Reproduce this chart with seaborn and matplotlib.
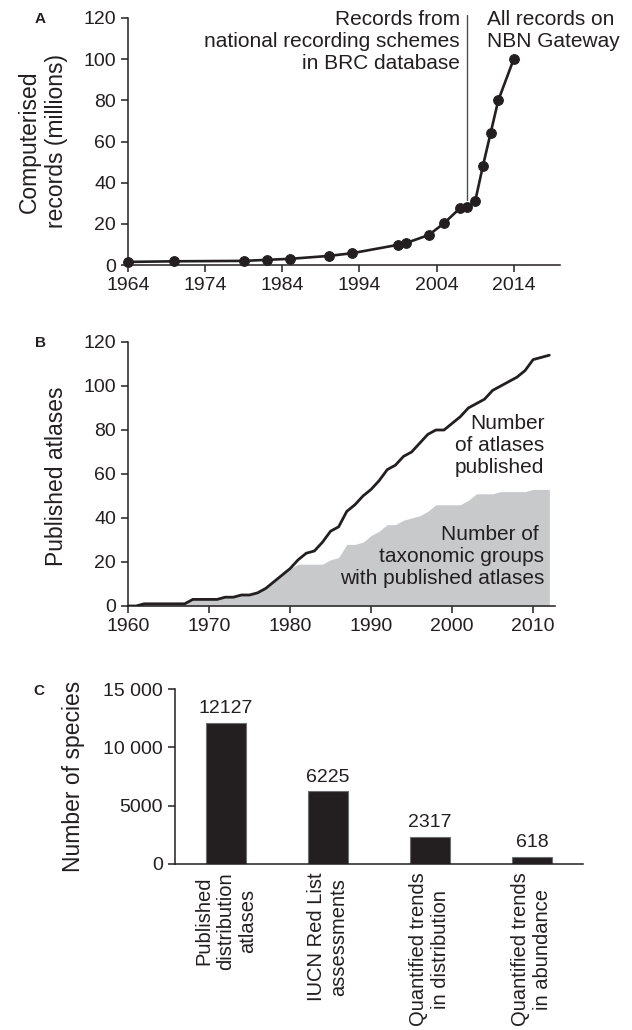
import matplotlib
matplotlib.use("Agg")
import matplotlib.pyplot as plt
import seaborn as sns
import pandas as pd

# A: computerised records (millions)
rec_years = [1964, 1970, 1979, 1982, 1985, 1990, 1993, 1999, 2000, 2003,
             2005, 2007, 2008, 2009, 2010, 2011, 2012, 2014]
rec_millions = [1.5, 1.8, 2.0, 2.5, 3.0, 4.4, 5.7, 9.8, 10.6, 14.6,
                20.4, 27.5, 28.4, 30.9, 48, 64, 80, 100]
brc_year = 2008

# B: cumulative atlases and taxonomic groups
atlas_years = list(range(1960, 2013))
atlases = [0, 0, 1, 1, 1, 1, 1, 1, 3, 3, 3, 3, 4, 4, 5, 5, 6, 8, 11, 14,
           17, 21, 24, 25, 29, 34, 36, 43, 46, 50, 53, 57, 62, 64, 68, 70, 74, 78, 80, 80,
           83, 86, 90, 92, 94, 98, 100, 102, 104, 107, 112, 113, 114]
groups = [0, 0, 1, 1, 1, 1, 1, 1, 3, 3, 3, 3, 4, 4, 5, 5, 6, 8, 11, 14,
          17, 19, 19, 19, 19, 21, 22, 28, 28, 29, 32, 34, 37, 37, 39, 40, 41, 43, 46, 46,
          46, 46, 48, 51, 51, 51, 52, 52, 52, 52, 53, 53, 53]

# C: number of species
categories = ["Published\ndistribution\natlases", "IUCN Red List\nassessments",
              "Quantified trends\nin distribution", "Quantified trends\nin abundance"]
species = [12127, 6225, 2317, 618]
c_ticks = [0, 5000, 10000, 15000]
c_ticklabels = ["0", "5000", "10 000", "15 000"]

sns.set_style("ticks")
plt.rcParams["font.family"] = ["Liberation Sans", "DejaVu Sans"]
ink = "#231f20"
plt.rcParams.update({
    "axes.edgecolor": ink, "axes.linewidth": 1.1,
    "xtick.color": ink, "ytick.color": ink,
    "xtick.labelcolor": ink, "ytick.labelcolor": ink,
    "xtick.major.width": 1.1, "ytick.major.width": 1.1,
    "xtick.major.size": 5, "ytick.major.size": 5,
    "xtick.labelsize": 14, "ytick.labelsize": 14,
    "axes.labelsize": 16.5, "axes.labelcolor": ink, "text.color": ink,
})

fig = plt.figure(figsize=(6.32, 10.30), dpi=100)
W, H = 632, 1030


def px_axes(l, r, t, b):
    return fig.add_axes([l / W, 1 - b / H, (r - l) / W, (b - t) / H])


# ---- panel A
ax1 = px_axes(128, 560, 18, 265)
dfa = pd.DataFrame({"year": rec_years, "records": rec_millions})
sns.lineplot(data=dfa, x="year", y="records", ax=ax1, color=ink, lw=1.9,
             marker="o", markersize=7, markeredgecolor=ink, clip_on=False)
ax1.plot([brc_year, brc_year], [31.5, 121.5], color="#4d4d4f", lw=1.0, clip_on=False)
ax1.set_xlim(1964, 2020)
ax1.set_ylim(0, 120)
ax1.set_xticks(range(1964, 2015, 10))
ax1.set_yticks(range(0, 121, 20))
ax1.set_xlabel("")
ax1.set_ylabel("Computerised\nrecords (millions)")
ax1.yaxis.set_label_coords(-0.14, 0.5)
ax1.text(2007.0, 108.5, "Records from\nnational recording schemes\nin BRC database",
         ha="right", va="center", fontsize=15, multialignment="right", clip_on=False)
ax1.text(2010.5, 114, "All records on\nNBN Gateway", ha="left", va="center",
         fontsize=15, clip_on=False)
sns.despine(ax=ax1)

# ---- panel B
ax2 = px_axes(128, 555, 342, 606)
ax2.fill_between(atlas_years, groups, color="#c8c9cb", linewidth=0)
dfb = pd.DataFrame({"year": atlas_years, "atlases": atlases})
sns.lineplot(data=dfb, x="year", y="atlases", ax=ax2, color=ink, lw=2.0)
ax2.set_xlim(1960, 2012.7)
ax2.set_ylim(0, 120)
ax2.set_xticks(range(1960, 2011, 10))
ax2.set_yticks(range(0, 121, 20))
ax2.set_xlabel("")
ax2.set_ylabel("Published atlases")
ax2.yaxis.set_label_coords(-0.14, 0.49)
ax2.text(2011.4, 73, "Number\nof atlases\npublished", ha="right", va="center",
         fontsize=15, multialignment="right")
ax2.text(2011.4, 22.5, "Number of \ntaxonomic groups\nwith published atlases",
         ha="right", va="center", fontsize=15, multialignment="right")
sns.despine(ax=ax2)

# ---- panel C
ax3 = px_axes(175, 583, 689, 864)
dfc = pd.DataFrame({"category": categories, "species": species})
sns.barplot(data=dfc, x="category", y="species", ax=ax3, color=ink,
            width=0.39, edgecolor="#6d6e71", linewidth=0.8, saturation=1)
ax3.bar_label(ax3.containers[0], labels=[str(v) for v in species],
              padding=4, fontsize=14, color=ink)
ax3.set_xlim(-0.5, 3.5)
ax3.set_ylim(0, 15000)
ax3.set_yticks(c_ticks)
ax3.set_yticklabels(c_ticklabels)
ax3.tick_params(axis="x", length=0, pad=6)
for lab in ax3.get_xticklabels():
    lab.set_rotation(90)
    lab.set_fontsize(14.5)
    lab.set_ha("center")
    lab.set_va("top")
    lab.set_multialignment("center")
ax3.set_xlabel("")
ax3.set_ylabel("Number of species")
ax3.yaxis.set_label_coords(-0.22, 0.5)
sns.despine(ax=ax3)

# panel letters
for letter, (x, y) in {"A": (40, 19), "B": (40, 343), "C": (39, 691)}.items():
    fig.text(x / W, 1 - y / H, letter, fontsize=11, fontweight="bold",
             ha="center", va="center")

fig.savefig("out.png", dpi=100)
